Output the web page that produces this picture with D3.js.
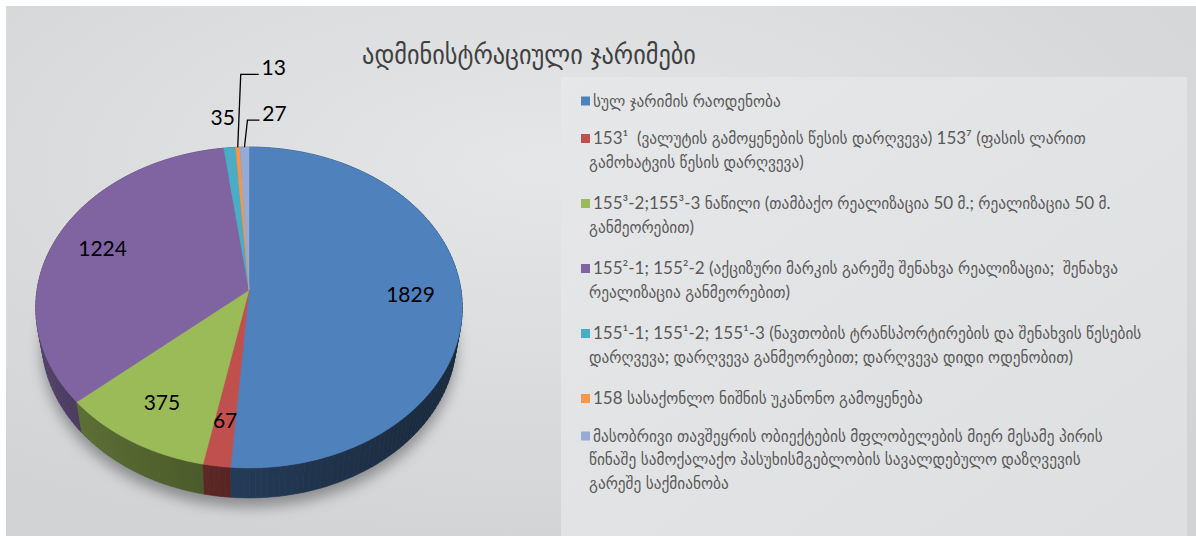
<!DOCTYPE html>
<html>
<head>
<meta charset="utf-8">
<script src="https://cdn.jsdelivr.net/npm/d3@7"></script>
<style>
  html, body { margin: 0; padding: 0; background: #ffffff; }
  svg { display: block; }
</style>
</head>
<body>
<svg id="chart" width="1196" height="536"></svg>
<script>
// ---------------- data ----------------
const title = "ადმინისტრაციული ჯარიმები";
const categories = [
  "სულ ჯარიმის რაოდენობა",
  "153¹  (ვალუტის გამოყენების წესის დარღვევა) 153⁷ (ფასის ლარით\nგამოხატვის წესის დარღვევა)",
  "155³-2;155³-3 ნაწილი (თამბაქო რეალიზაცია 50 მ.; რეალიზაცია 50 მ.\nგანმეორებით)",
  "155²-1; 155²-2 (აქციზური მარკის გარეშე შენახვა რეალიზაცია;  შენახვა\nრეალიზაცია განმეორებით)",
  "155¹-1; 155¹-2; 155¹-3 (ნავთობის ტრანსპორტირების და შენახვის წესების\nდარღვევა; დარღვევა განმეორებით; დარღვევა დიდი ოდენობით)",
  "158 სასაქონლო ნიშნის უკანონო გამოყენება",
  "მასობრივი თავშეყრის ობიექტების მფლობელების მიერ მესამე პირის\nწინაშე სამოქალაქო პასუხისმგებლობის სავალდებულო დაზღვევის\nგარეშე საქმიანობა"
];
const values = [1829, 67, 375, 1224, 35, 13, 27];
const valueLabels = ["1829", "67", "375", "1224", "35", "13", "27"];
const colors = ["#4f81bd", "#c0504d", "#9bbb59", "#8064a2", "#4bacc6", "#f79646", "#95aad5"];

// ---------------- setup ----------------
const svg = d3.select("#chart");
const defs = svg.append("defs");

const bgGrad = defs.append("radialGradient").attr("id", "bgGrad")
  .attr("cx", "45%").attr("cy", "30%").attr("r", "75%");
bgGrad.append("stop").attr("offset", "0%").attr("stop-color", "#e5e6e8");
bgGrad.append("stop").attr("offset", "100%").attr("stop-color", "#d2d3d5");

const legGrad = defs.append("linearGradient").attr("id", "legGrad")
  .attr("x1", "0%").attr("y1", "0%").attr("x2", "100%").attr("y2", "100%");
legGrad.append("stop").attr("offset", "0%").attr("stop-color", "#e6e7e9");
legGrad.append("stop").attr("offset", "100%").attr("stop-color", "#dedfe1");

const blur = defs.append("filter").attr("id", "shadowBlur")
  .attr("x", "-20%").attr("y", "-20%").attr("width", "140%").attr("height", "140%");
blur.append("feGaussianBlur").attr("stdDeviation", 7);

// background panels
svg.append("rect").attr("x", 6).attr("y", 6).attr("width", 1190).attr("height", 530)
  .attr("fill", "url(#bgGrad)");
svg.append("rect").attr("x", 561).attr("y", 77).attr("width", 626).attr("height", 459)
  .attr("fill", "url(#legGrad)");

// title
svg.append("text")
  .attr("x", 529).attr("y", 55).attr("dy", "0.35em")
  .attr("text-anchor", "middle")
  .attr("font-family", "'DejaVu Sans Condensed', 'DejaVu Sans', sans-serif")
  .attr("font-size", 27)
  .attr("fill", "#404040")
  .text(title);

// ---------------- 3D pie (perspective projection) ----------------
const P = { cx: 249, cy: 290, f: 1291, D: 6.09, alpha: 48.4 * Math.PI / 180, depth: 0.232 };
function project(theta, r, h) {
  const x = r * Math.sin(theta), z = r * Math.cos(theta);
  const Yc = h * Math.cos(P.alpha) + z * Math.sin(P.alpha);
  const Zc = P.D + z * Math.cos(P.alpha) - h * Math.sin(P.alpha);
  return [P.cx + P.f * x / Zc, P.cy - P.f * Yc / Zc, Zc];
}

const color = d3.scaleOrdinal().domain(d3.range(values.length)).range(colors);
const pie = d3.pie().sort(null).value(d => d).startAngle(0).endAngle(2 * Math.PI);
const arcs = pie(values).map((a, i) => ({ ...a, i }));
const line = d3.line().curve(d3.curveLinearClosed);

const gPie = svg.append("g");

// shadow beneath
const bottomRim = d3.range(0, 361, 2).map(deg => {
  const p = project(deg * Math.PI / 180, 1.0, -P.depth);
  return [p[0], p[1] + 9];
});
gPie.append("path").attr("d", line(bottomRim))
  .attr("fill", "rgba(0,0,0,0.35)").attr("filter", "url(#shadowBlur)");

// outer walls split into small quads, painted back to front
const quads = [];
const step = 1.5 * Math.PI / 180;
arcs.forEach(a => {
  const n = Math.max(1, Math.ceil((a.endAngle - a.startAngle) / step));
  for (let k = 0; k < n; k++) {
    const t0 = a.startAngle + (a.endAngle - a.startAngle) * k / n;
    const t1 = a.startAngle + (a.endAngle - a.startAngle) * (k + 1) / n;
    const tm = (t0 + t1) / 2;
    const pts = [project(t0, 1, 0), project(t1, 1, 0), project(t1, 1, -P.depth), project(t0, 1, -P.depth)];
    const shade = 0.5 - 0.17 * Math.sin(tm) + 0.05 * Math.cos(tm);
    const c = d3.color(color(a.i));
    const fill = d3.rgb(c.r * shade, c.g * shade, c.b * shade).formatHex();
    quads.push({ pts: pts.map(p => [p[0], p[1]]), depth: project(tm, 1, 0)[2], fill });
  }
});
quads.sort((a, b) => b.depth - a.depth);
gPie.selectAll("path.wall").data(quads).join("path")
  .attr("class", "wall")
  .attr("d", d => line(d.pts))
  .attr("fill", d => d.fill)
  .attr("stroke", d => d.fill).attr("stroke-width", 0.6);

// top faces
function topFace(a) {
  const pts = [project(0, 0, 0)];
  const n = Math.max(2, Math.ceil((a.endAngle - a.startAngle) / (0.5 * Math.PI / 180)));
  for (let k = 0; k <= n; k++) {
    const t = a.startAngle + (a.endAngle - a.startAngle) * k / n;
    pts.push(project(t, 1, 0));
  }
  return line(pts.map(p => [p[0], p[1]]));
}
gPie.selectAll("path.top").data(arcs).join("path")
  .attr("class", "top")
  .attr("d", topFace)
  .attr("fill", d => color(d.i))
  .attr("stroke", d => color(d.i)).attr("stroke-width", 0.5);

// data labels
const labelFont = "Lato, 'Open Sans', sans-serif";
const smallOffsets = { 4: [-7, -30], 5: [36, -80], 6: [30, -34] };
const leaders = { 5: true, 6: true };
arcs.forEach(a => {
  const mid = (a.startAngle + a.endAngle) / 2;
  let lx, ly;
  if (smallOffsets[a.i]) {
    const anchor = project(mid, 1, 0);
    lx = anchor[0] + smallOffsets[a.i][0];
    ly = anchor[1] + smallOffsets[a.i][1];
    if (leaders[a.i]) {
      const yL = ly + 7;
      gPie.append("path")
        .attr("d", d3.line()([[anchor[0], anchor[1]], [anchor[0] + 3, yL], [lx - 15, yL]]))
        .attr("fill", "none").attr("stroke", "#000").attr("stroke-width", 1.3);
    }
  } else {
    const p = project(mid, 0.76, 0);
    lx = p[0]; ly = p[1];
  }
  gPie.append("text")
    .attr("x", lx).attr("y", ly).attr("dy", "0.36em")
    .attr("text-anchor", "middle")
    .attr("font-family", labelFont).attr("font-size", 21)
    .attr("fill", "#000")
    .text(valueLabels[a.i]);
});

// ---------------- legend ----------------
const legend = svg.append("g");
const lineH = 23.5;
let yCur = 101;
categories.forEach((cat, i) => {
  const lines = cat.split("\n");
  legend.append("rect")
    .attr("x", 581).attr("y", yCur - 4.5).attr("width", 9).attr("height", 9)
    .attr("fill", color(i));
  const txt = legend.append("text")
    .attr("font-family", "Lato, 'DejaVu Sans Condensed', sans-serif")
    .attr("font-size", 17)
    .attr("fill", "#595959");
  lines.forEach((ln, j) => {
    txt.append("tspan")
      .attr("x", j === 0 ? 593 : 589)
      .attr("y", yCur + j * lineH).attr("dy", "0.35em")
      .attr("xml:space", "preserve")
      .text(ln);
  });
  yCur += lines.length * lineH + 14 + 4 * (lines.length - 1);
});
</script>
</body>
</html>
